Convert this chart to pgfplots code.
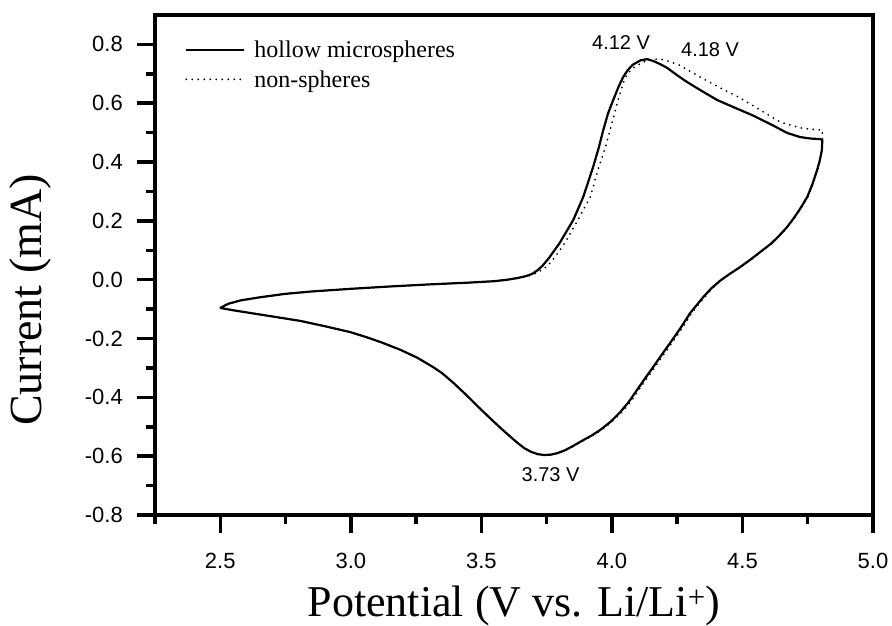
\documentclass[border=0pt]{standalone}
\usepackage{fontspec}
\setmainfont{Liberation Serif}
\newfontfamily\arial{Liberation Sans}
\usepackage{pgfplots}
\pgfplotsset{compat=1.18}
\begin{document}
\begin{tikzpicture}
\begin{axis}[
  scale only axis, width=718pt, height=500pt,
  xmin=2.25, xmax=5.0, ymin=-0.8, ymax=0.9,
  xtick={2.5,3.0,3.5,4.0,4.5,5.0},
  ytick={-0.8,-0.6,-0.4,-0.2,0.0,0.2,0.4,0.6,0.8},
  minor xtick={2.25,2.75,3.25,3.75,4.25,4.75},
  minor ytick={-0.7,-0.5,-0.3,-0.1,0.1,0.3,0.5,0.7},
  xtick pos=bottom, ytick pos=left,
  tick align=outside,
  major tick length=18pt, minor tick length=9pt,
  every tick/.style={line width=3.5pt, black},
  axis line style={line width=3.5pt},
  /pgf/number format/assume math mode=true,
  /pgf/number format/.cd, fixed, fixed zerofill, precision=1, /pgfplots/.cd,
  tick label style={font=\arial\fontsize{22}{22}\selectfont},
  xticklabel style={inner sep=0pt, anchor=base, yshift=-36pt},
  yticklabel style={inner sep=0pt, anchor=east, xshift=-14pt},
  xlabel={Potential (V vs. Li/Li\textsuperscript{+})},
  ylabel={Current (mA)},
  xlabel style={font=\fontsize{44}{44}\selectfont, at={(axis description cs:0.5,-0.203)}, anchor=base, inner sep=0pt},
  ylabel style={font=\fontsize{46}{46}\selectfont, at={(axis description cs:-0.1574,0.43)}, anchor=base, inner sep=0pt},
  legend style={draw=none, fill=none, at={(axis description cs:0.0418,0.952)}, anchor=north west,
    font=\fontsize{24}{24}\selectfont, row sep=7pt, column sep=7pt, inner sep=0pt},
  legend cell align=left,
  legend image code/.code={\draw[#1] (0pt,0pt) -- (58pt,0pt);},
  clip=false,
]
\addplot[black, line width=2.2pt, line join=round] coordinates {
(2.50,-0.096) (2.53,-0.082) (2.58,-0.070) (2.65,-0.060) (2.75,-0.048) (2.85,-0.040) (3.00,-0.031) (3.15,-0.023) (3.30,-0.016) (3.45,-0.010) (3.55,-0.005) (3.60,0.000) (3.64,0.006) (3.67,0.012) (3.695,0.020) (3.715,0.032) (3.735,0.048) (3.76,0.075) (3.80,0.125) (3.852,0.203) (3.89,0.281) (3.928,0.383) (3.95,0.45) (3.967,0.509) (3.985,0.565) (4.005,0.611) (4.025,0.655) (4.043,0.689) (4.06,0.712) (4.08,0.731) (4.11,0.746) (4.135,0.750) (4.16,0.743) (4.185,0.733) (4.212,0.720) (4.25,0.695) (4.288,0.672) (4.338,0.645) (4.403,0.611) (4.465,0.587) (4.541,0.558) (4.618,0.524) (4.671,0.499) (4.721,0.485) (4.76,0.480) (4.798,0.478) (4.806,0.475) (4.804,0.44) (4.796,0.405) (4.786,0.373) (4.768,0.325) (4.748,0.281) (4.72,0.240) (4.694,0.206) (4.668,0.176) (4.64,0.149) (4.61,0.123) (4.568,0.094) (4.53,0.068) (4.491,0.043) (4.45,0.019) (4.415,-0.003) (4.38,-0.030) (4.35,-0.059) (4.30,-0.113) (4.26,-0.168) (4.223,-0.215) (4.19,-0.256) (4.158,-0.297) (4.125,-0.338) (4.096,-0.375) (4.065,-0.415) (4.032,-0.450) (3.995,-0.483) (3.955,-0.511) (3.92,-0.531) (3.885,-0.548) (3.85,-0.566) (3.82,-0.580) (3.79,-0.590) (3.765,-0.595) (3.74,-0.596) (3.715,-0.593) (3.69,-0.585) (3.665,-0.573) (3.64,-0.556) (3.61,-0.533) (3.572,-0.503) (3.53,-0.468) (3.483,-0.428) (3.44,-0.390) (3.392,-0.350) (3.35,-0.318) (3.315,-0.297) (3.254,-0.265) (3.189,-0.238) (3.12,-0.214) (3.062,-0.196) (2.997,-0.178) (2.90,-0.158) (2.806,-0.140) (2.70,-0.125) (2.614,-0.113) (2.55,-0.104) (2.50,-0.096)
};
\addlegendentry{hollow microspheres}
\addplot[black, line width=2pt, line cap=round, dash pattern=on 0pt off 6pt] coordinates {
(2.50,-0.096) (2.53,-0.082) (2.58,-0.070) (2.65,-0.060) (2.75,-0.048) (2.85,-0.040) (3.00,-0.031) (3.15,-0.023) (3.30,-0.016) (3.45,-0.010) (3.55,-0.005) (3.60,0.000) (3.64,0.005) (3.67,0.010) (3.70,0.018) (3.725,0.030) (3.752,0.045) (3.78,0.075) (3.82,0.125) (3.87,0.203) (3.917,0.281) (3.95,0.383) (3.975,0.45) (3.993,0.509) (4.024,0.611) (4.043,0.669) (4.06,0.700) (4.081,0.720) (4.12,0.740) (4.158,0.749) (4.185,0.750) (4.22,0.742) (4.262,0.728) (4.30,0.708) (4.338,0.689) (4.415,0.652) (4.491,0.618) (4.568,0.577) (4.645,0.536) (4.721,0.516) (4.77,0.511) (4.806,0.509) (4.806,0.475) (4.804,0.44) (4.797,0.405) (4.788,0.373) (4.770,0.325) (4.750,0.281) (4.722,0.240) (4.696,0.206) (4.670,0.176) (4.642,0.149) (4.612,0.123) (4.570,0.094) (4.532,0.068) (4.493,0.043) (4.452,0.019) (4.418,-0.003) (4.384,-0.030) (4.355,-0.059) (4.306,-0.113) (4.267,-0.168) (4.230,-0.215) (4.197,-0.256) (4.165,-0.297) (4.132,-0.338) (4.103,-0.375) (4.072,-0.415) (4.038,-0.450) (4.000,-0.483) (3.960,-0.511) (3.924,-0.531) (3.888,-0.548) (3.852,-0.566) (3.822,-0.580) (3.791,-0.590) (3.766,-0.595) (3.74,-0.596) (3.715,-0.593) (3.69,-0.585) (3.665,-0.573) (3.64,-0.556) (3.61,-0.533) (3.572,-0.503) (3.53,-0.468) (3.483,-0.428) (3.44,-0.390) (3.392,-0.350) (3.35,-0.318) (3.315,-0.297) (3.254,-0.265) (3.189,-0.238) (3.12,-0.214) (3.062,-0.196) (2.997,-0.178) (2.90,-0.158) (2.806,-0.140) (2.70,-0.125) (2.614,-0.113) (2.55,-0.104) (2.50,-0.096)
};
\addlegendentry{non-spheres}
\node[font=\arial\fontsize{20}{20}\selectfont, inner sep=0pt] at (axis cs:4.035,0.808) {4.12 V};
\node[font=\arial\fontsize{20}{20}\selectfont, inner sep=0pt] at (axis cs:4.376,0.781) {4.18 V};
\node[font=\arial\fontsize{20}{20}\selectfont, inner sep=0pt] at (axis cs:3.765,-0.664) {3.73 V};
\end{axis}
\pgfresetboundingbox
\useasboundingbox (-155pt,-111pt) rectangle (737pt,515pt);
\end{tikzpicture}
\end{document}
